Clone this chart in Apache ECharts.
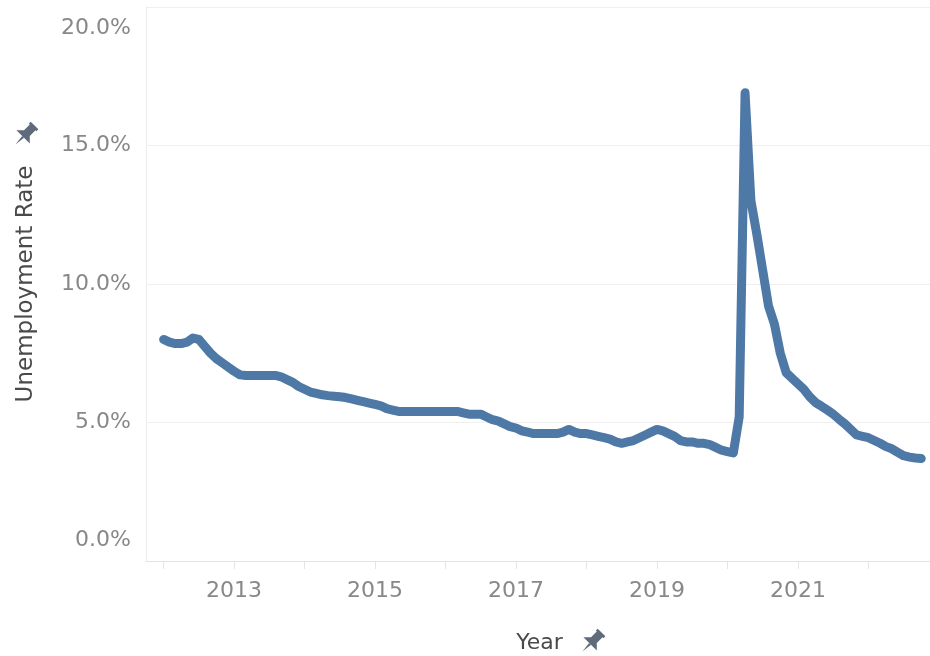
<!DOCTYPE html>
<html>
<head>
<meta charset="utf-8">
<title>Unemployment Rate</title>
<script src="https://cdn.jsdelivr.net/npm/echarts@6/dist/echarts.min.js"></script>
<style>
  html, body { margin: 0; padding: 0; background: #fff; }
</style>
</head>
<body>
<!-- unemployment rate by month -->
<div id="rateChart" style="width:930px;height:656px"></div>

<script>
// monthly unemployment rate (%), Jan 2012 .. Oct 2022
var rate2012 = [8.0, 7.9, 7.85, 7.85, 7.9, 8.05, 8.0, 7.75, 7.5, 7.3, 7.15, 7.0];
var rate2013 = [6.85, 6.72, 6.7, 6.7, 6.7, 6.7, 6.7, 6.7, 6.65, 6.55, 6.45, 6.3];
var rate2014 = [6.2, 6.1, 6.05, 6.0, 5.97, 5.95, 5.93, 5.9, 5.85, 5.8, 5.75, 5.7];
var rate2015 = [5.65, 5.6, 5.5, 5.45, 5.4, 5.4, 5.4, 5.4, 5.4, 5.4, 5.4, 5.4];
var rate2016 = [5.4, 5.4, 5.4, 5.35, 5.3, 5.3, 5.3, 5.2, 5.1, 5.05, 4.95, 4.85];
var rate2017 = [4.8, 4.7, 4.65, 4.6, 4.6, 4.6, 4.6, 4.6, 4.65, 4.75, 4.65, 4.6];
var rate2018 = [4.6, 4.55, 4.5, 4.45, 4.4, 4.3, 4.25, 4.3, 4.35, 4.45, 4.55, 4.65];
var rate2019 = [4.75, 4.7, 4.6, 4.5, 4.35, 4.3, 4.3, 4.25, 4.25, 4.2, 4.1, 4.0];
var rate2020 = [3.95, 3.9, 5.2, 16.9, 13.0, 11.8, 10.5, 9.2, 8.55, 7.5, 6.8, 6.6];
var rate2021 = [6.4, 6.2, 5.93, 5.72, 5.59, 5.45, 5.3, 5.12, 4.95, 4.75, 4.55, 4.5];
var rate2022 = [4.45, 4.35, 4.25, 4.13, 4.05, 3.92, 3.8, 3.75, 3.72, 3.7];

var yTicks = [0, 5, 10, 15, 20];

// axis runs a little past the data on both sides (Oct 2011 .. Dec 2022)
var padBefore = 3, padAfter = 2;

var rates = [].concat(rate2012, rate2013, rate2014, rate2015, rate2016, rate2017,
  rate2018, rate2019, rate2020, rate2021, rate2022);

var months = [], seriesData = [];
for (var i = -padBefore; i < rates.length + padAfter; i++) {
  var y = 2012 + Math.floor(i / 12);
  var m = ((i % 12) + 12) % 12 + 1;
  months.push(y + '-' + (m < 10 ? '0' + m : m));
  seriesData.push(i >= 0 && i < rates.length ? rates[i] : null);
}

function isJan(value) {
  return value.slice(5) === '01';
}

var labelFont = 'DejaVu Sans';

// pushpin icon (needle down before rotating), built from two polygons
function pin(cx, cy) {
  return {
    type: 'group',
    x: cx,
    y: cy,
    rotation: -Math.PI / 4,
    scaleX: 1.35,
    scaleY: 1.35,
    children: [
      {
        type: 'polygon',
        shape: { points: [[-4, -10], [4, -10], [4, -8], [3, -8], [3, -2], [7, 2], [-7, 2], [-3, -2], [-3, -8], [-4, -8]] },
        style: { fill: '#5f6b7a' }
      },
      {
        type: 'polygon',
        shape: { points: [[-1, 2], [1, 2], [0, 10]] },
        style: { fill: '#5f6b7a' }
      }
    ]
  };
}

let myChart = echarts.init(document.getElementById('rateChart'));

var option = {
  backgroundColor: '#fff',
  animation: false,
  grid: {
    left: 146,
    right: -3,
    top: 7,
    bottom: 95,
    outerBoundsMode: 'none'
  },
  xAxis: {
    type: 'category',
    data: months,
    boundaryGap: false,
    name: 'Year',
    nameLocation: 'middle',
    nameGap: 71,
    nameTextStyle: {
      fontFamily: labelFont,
      fontSize: 22,
      color: '#4a4a4a'
    },
    axisLine: {
      lineStyle: { color: '#e4e4e4', width: 1 }
    },
    axisTick: {
      show: true,
      length: 8,
      interval: function (index, value) { return isJan(value); },
      lineStyle: { color: '#e4e4e4' }
    },
    axisLabel: {
      margin: 19,
      fontFamily: labelFont,
      fontSize: 22,
      color: '#888888',
      interval: function (index, value) {
        return isJan(value) && (+value.slice(0, 4)) % 2 === 1;
      },
      formatter: function (value) { return value.slice(0, 4); }
    },
    splitLine: { show: false }
  },
  yAxis: {
    type: 'value',
    min: yTicks[0],
    max: yTicks[yTicks.length - 1],
    interval: 5,
    name: 'Unemployment Rate',
    nameLocation: 'middle',
    nameRotate: 90,
    nameGap: 108,
    nameTextStyle: {
      fontFamily: labelFont,
      fontSize: 23,
      color: '#4a4a4a'
    },
    axisLine: {
      show: true,
      lineStyle: { color: '#ececec', width: 1 }
    },
    axisTick: { show: false },
    axisLabel: {
      margin: 15,
      fontFamily: labelFont,
      fontSize: 22,
      color: '#888888',
      lineHeight: 42,
      verticalAlignMinLabel: 'bottom',
      verticalAlignMaxLabel: 'top',
      formatter: function (v) { return v.toFixed(1) + '%'; }
    },
    splitLine: {
      lineStyle: { color: '#efefef', width: 1 }
    }
  },
  graphic: [pin(25, 135), pin(592, 642)],
  series: [
    {
      name: 'Unemployment Rate',
      type: 'line',
      data: seriesData,
      showSymbol: false,
      symbol: 'none',
      smooth: false,
      lineStyle: {
        color: '#4e79a7',
        width: 9,
        cap: 'round',
        join: 'round'
      },
      itemStyle: { color: '#4e79a7' }
    }
  ]
};

myChart.setOption(option);
</script>
</body>
</html>
